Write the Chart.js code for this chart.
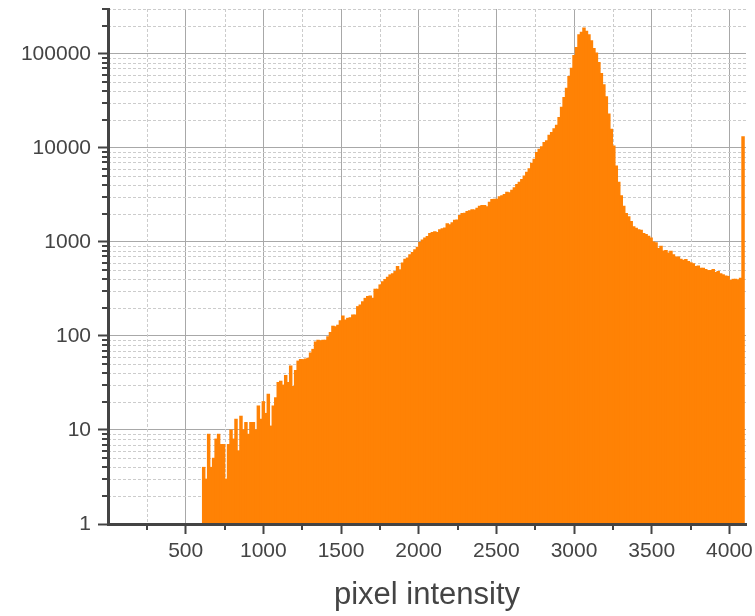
<!DOCTYPE html>
<html>
<head>
<meta charset="utf-8">
<script src="https://cdn.jsdelivr.net/npm/chart.js@4.4.1/dist/chart.umd.min.js"></script>
<style>
  html, body { margin: 0; padding: 0; background: #fff; }
  #hist { display: block; }
</style>
</head>
<body>
<canvas id="hist" width="755" height="616"></canvas>
<script>
// histogram bins: 16 wide, first non-empty bin starts at 608
const binStart = 608;
const binWidth = 16;

// counts per bin (split by region)
const countsLow = [
  4, 3, 9, 4, 5, 8, 9, 7, 7, 3,
  7, 10, 8, 13, 6, 14, 10, 12, 9, 12,
  12, 10, 18, 13, 20, 15, 24, 11, 18, 22,
  32, 33, 30, 38, 32, 48, 29, 43, 54, 56,
  56, 57, 58, 66, 72, 86, 90, 89, 90, 90
];
const countsRise = [
  98, 109, 127, 125, 130, 145, 163, 148, 154, 156,
  167, 167, 205, 214, 231, 251, 262, 266, 251, 314,
  314, 349, 378, 398, 422, 446, 458, 484, 547, 505,
  595, 656, 676, 730, 770, 826, 875, 988, 1050, 1100,
  1140, 1230, 1260, 1280, 1260, 1350, 1380, 1410, 1560, 1520,
  1600, 1700, 1710, 1910, 2000, 2020
];
const countsShoulder = [
  2100, 2150, 2200, 2180, 2280, 2400, 2440, 2440, 2370, 2640,
  2820, 2850, 2850, 3020, 3100, 3190, 3380, 3330, 3550, 3770,
  4080, 4320, 4620, 5010, 5520, 6010, 6850, 7550, 8910, 9660,
  10300, 11400, 11900, 13600, 14600, 16000
];
const countsPeak = [
  17400, 21000, 27000, 34400, 43000, 57600, 70300, 96000, 117000, 160000,
  170000, 188000, 174000, 160000, 138000, 114000, 102000, 81000, 62000, 47000,
  35000, 22900, 15800, 10500, 6400, 4300, 3100, 2400, 2000, 1850,
  1650, 1450
];
const countsTail = [
  1400, 1350, 1330, 1230, 1200, 1150, 1100, 1000, 980, 850,
  900, 800, 810, 760, 795, 730, 690, 690, 656, 640,
  650, 620, 600, 585, 547, 555, 525, 525, 510, 496,
  496, 510, 472, 485, 458, 447, 435, 430, 388, 400,
  400, 395, 410, 13100
];

const xTickValues = [250, 500, 750, 1000, 1250, 1500, 1750, 2000, 2250, 2500,
  2750, 3000, 3250, 3500, 3750, 4000];
const yTickValues = [
  1, 2, 3, 4, 5, 6, 7, 8, 9,
  10, 20, 30, 40, 50, 60, 70, 80, 90,
  100, 200, 300, 400, 500, 600, 700, 800, 900,
  1000, 2000, 3000, 4000, 5000, 6000, 7000, 8000, 9000,
  10000, 20000, 30000, 40000, 50000, 60000, 70000, 80000, 90000,
  100000, 200000, 300000
];

const counts = [].concat(countsLow, countsRise, countsShoulder, countsPeak, countsTail);
const bars = counts.map((c, i) => ({ x: binStart + binWidth * (i + 0.5), y: c }));

const isMajorX = v => v % 500 === 0;
const isDecade = v => Math.abs(Math.log10(v) - Math.round(Math.log10(v))) < 1e-9;

const AXIS = "#444";
const MAJOR_GRID = "#a8a8a8";
const MINOR_GRID = "#cccccc";

// dashed minor grid + short minor tick marks
const minorGrid = {
  id: "minorGrid",
  beforeDatasetsDraw(chart) {
    const { ctx, chartArea: a, scales: { x, y } } = chart;
    ctx.save();
    ctx.strokeStyle = MINOR_GRID;
    ctx.lineWidth = 1;
    ctx.setLineDash([3, 2]);
    ctx.beginPath();
    x.ticks.forEach(t => {
      if (isMajorX(t.value)) return;
      const p = Math.round(x.getPixelForValue(t.value)) + 0.5;
      ctx.moveTo(p, a.top);
      ctx.lineTo(p, a.bottom);
    });
    y.ticks.forEach(t => {
      if (isDecade(t.value)) return;
      const p = Math.round(y.getPixelForValue(t.value)) + 0.5;
      ctx.moveTo(a.left, p);
      ctx.lineTo(a.right, p);
    });
    ctx.stroke();
    ctx.restore();
  },
  afterDraw(chart) {
    const { ctx, chartArea: a, scales: { x, y } } = chart;
    ctx.save();
    ctx.strokeStyle = AXIS;
    ctx.lineWidth = 2;
    ctx.beginPath();
    x.ticks.forEach(t => {
      if (isMajorX(t.value)) return;
      const p = Math.round(x.getPixelForValue(t.value));
      ctx.moveTo(p, a.bottom);
      ctx.lineTo(p, a.bottom + 6);
    });
    y.ticks.forEach(t => {
      if (isDecade(t.value)) return;
      const p = Math.round(y.getPixelForValue(t.value));
      ctx.moveTo(a.left, p);
      ctx.lineTo(a.left - 6, p);
    });
    ctx.stroke();
    ctx.restore();
  }
};

Chart.defaults.font.family = '"Liberation Sans", Arial, sans-serif';

new Chart(document.getElementById("hist"), {
  type: "bar",
  data: {
    datasets: [{
      data: bars,
      backgroundColor: "#ff8205",
      borderWidth: 0,
      inflateAmount: 0.5,
      barPercentage: 1,
      categoryPercentage: 1
    }]
  },
  options: {
    responsive: false,
    animation: false,
    devicePixelRatio: 1,
    layout: { padding: { top: 9, right: 9, left: 0, bottom: 0 } },
    plugins: { legend: { display: false }, tooltip: { enabled: false } },
    scales: {
      x: {
        type: "linear",
        offset: false,
        min: 0,
        max: 4107,
        afterBuildTicks: s => { s.ticks = xTickValues.map(v => ({ value: v })); },
        afterFit: s => {
          s.height = 92;
          s.paddingLeft = 0;
          s.paddingRight = 0;
        },
        ticks: {
          autoSkip: false,
          maxRotation: 0,
          padding: 5,
          color: AXIS,
          font: { size: 21 },
          callback: v => isMajorX(v) ? String(v) : ""
        },
        grid: {
          offset: false,
          color: c => c.tick && isMajorX(c.tick.value) ? MAJOR_GRID : "rgba(0,0,0,0)",
          lineWidth: 1,
          tickLength: 10,
          tickWidth: 2,
          tickColor: c => c.tick && isMajorX(c.tick.value) ? AXIS : "rgba(0,0,0,0)"
        },
        border: { color: AXIS, width: 3, z: 1 },
        title: {
          display: true,
          text: "pixel intensity",
          color: AXIS,
          font: { size: 31 },
          padding: { top: 0, bottom: 2 }
        }
      },
      y: {
        type: "logarithmic",
        min: 1,
        max: 300000,
        afterBuildTicks: s => { s.ticks = yTickValues.map(v => ({ value: v })); },
        afterFit: s => {
          s.width = 108;
          s.paddingTop = 0;
          s.paddingBottom = 0;
        },
        ticks: {
          autoSkip: false,
          padding: 7,
          color: AXIS,
          font: { size: 21 },
          callback: v => isDecade(v) ? String(v) : ""
        },
        grid: {
          color: c => c.tick && isDecade(c.tick.value) ? MAJOR_GRID : "rgba(0,0,0,0)",
          lineWidth: 1,
          tickLength: 10,
          tickWidth: 2,
          tickColor: c => c.tick && isDecade(c.tick.value) ? AXIS : "rgba(0,0,0,0)"
        },
        border: { color: AXIS, width: 3, z: 1 }
      }
    }
  },
  plugins: [minorGrid]
});
</script>
</body>
</html>
